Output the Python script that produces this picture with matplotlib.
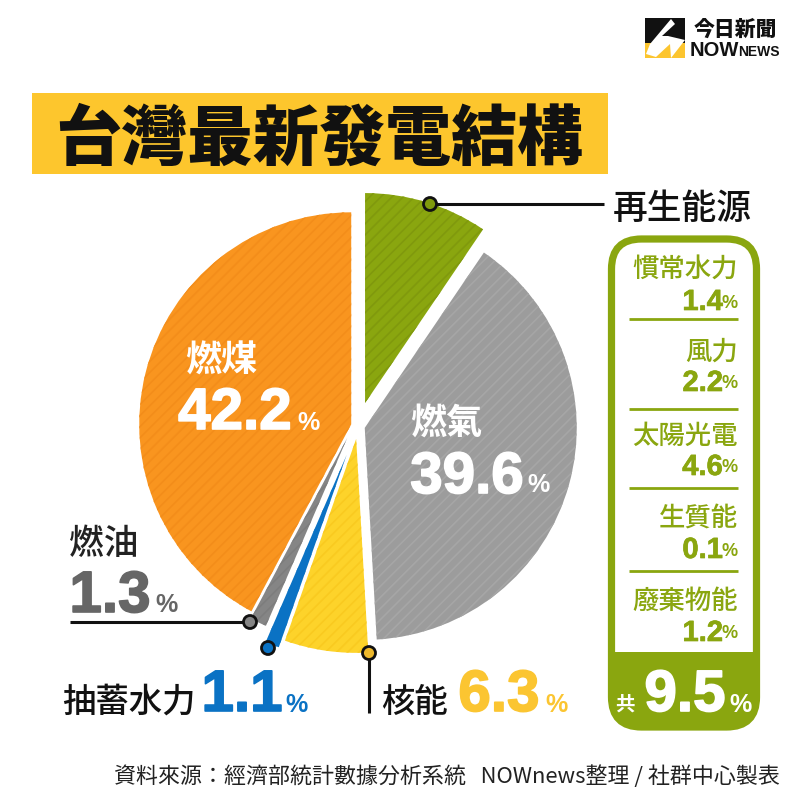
import matplotlib
matplotlib.use("Agg")
import matplotlib.pyplot as plt
import matplotlib.patheffects as pe
from matplotlib.patches import Rectangle, FancyBboxPatch, Polygon, Circle

# ---- data ----
sources = ["再生能源", "燃氣", "核能", "抽蓄水力", "燃油", "燃煤"]
shares = [9.5, 39.6, 6.3, 1.1, 1.3, 42.2]
renew_names = ["慣常水力", "風力", "太陽光電", "生質能", "廢棄物能"]
renew_values = [1.4, 2.2, 4.6, 0.1, 1.2]
title = "台灣最新發電結構"
source_note = "資料來源：經濟部統計數據分析系統   NOWnews整理 / 社群中心製表"

# ---- style ----
colors = ["#8aa60f", "#9c9c9c", "#fdd32a", "#0a72c4", "#858585", "#f9951f"]
hatches = ["#80990d", "#a6a6a6", "#f9ca20", "#0a72c4", "#7d7d7d", "#f38d1a"]
explode_px = [24, 7, 13, 31, 13, 7]
radii_px = [210, 212, 214, 204, 205, 212]
nudge_px = [(0, 0), (0, 0), (0, 0), (0, 0), (-5, 0), (0, 0)]
GREEN = "#8aa60f"
CJK = "Noto Sans CJK JP"
NUM = "Liberation Sans"
plt.rcParams["hatch.linewidth"] = 1.2

fig = plt.figure(figsize=(8, 8), dpi=100, facecolor="white")
ax = fig.add_axes([0, 0, 1, 1])


def Y(y):
    return 800 - y


def T(x, y, s, size, color="#111111", ha="center", font=CJK, weight="bold", stroke=0, z=6):
    t = ax.text(x, Y(y), s, fontsize=size, color=color, ha=ha, va="center_baseline",
                family=font, fontweight=weight, zorder=z)
    if stroke:
        t.set_path_effects([pe.withStroke(linewidth=stroke, foreground=color)])
    return t


wedges, _ = ax.pie(shares, colors=colors, startangle=90, counterclock=False,
                   radius=213, center=(358, Y(426)), explode=explode_px,
                   wedgeprops={"linewidth": 0})
for w, r, h, (dx, dy) in zip(wedges, radii_px, hatches, nudge_px):
    w.set_radius(r)
    w.set_center((w.center[0] + dx, w.center[1] + dy))
    w.set_edgecolor(h)
    w.set_hatch("///")
    w.set_linewidth(0)
    w.set_zorder(2)

ax.set_xlim(0, 800)
ax.set_ylim(0, 800)
ax.set_aspect("equal")
ax.axis("off")

# title
ax.add_patch(Rectangle((32, Y(174)), 576, 81, fc="#fdc62d", ec="none", zorder=1))
T(319, 133, title, 47.5, "#111111", weight="black")

# connectors and dots
ax.plot([430, 604], [Y(204)] * 2, color="#111111", lw=2.2, zorder=4, solid_capstyle="butt")
ax.plot([70, 250], [Y(622)] * 2, color="#111111", lw=2.2, zorder=4, solid_capstyle="butt")
ax.plot([369, 369], [Y(653), Y(713)], color="#111111", lw=2.2, zorder=4, solid_capstyle="butt")
for (x, y), c in zip([(430, 204), (250, 622), (268, 648), (369, 653)],
                     ["#7f9a0c", "#858585", "#0a72c4", "#eeb92c"]):
    ax.add_patch(Circle((x, Y(y)), 6.5, fc=c, ec="#111111", lw=2, zorder=5))

# pie labels
T(221, 357, sources[5], 26, "white")
T(235, 408, f"{shares[5]}", 42, "white", font=NUM, stroke=1.2)
T(308, 421, "%", 18, "white", font=NUM)
T(446, 420, sources[1], 26, "white")
T(467, 472, f"{shares[1]}", 42, "white", font=NUM, stroke=1.2)
T(539, 483, "%", 18, "white", font=NUM)
T(104, 540, sources[4], 25, "#222222", weight="medium")
T(110, 591, f"{shares[4]}", 42, "#666666", font=NUM, stroke=1.2)
T(166, 602, "%", 18, "#666666", font=NUM)
T(129, 698, sources[3], 24, "#111111", weight="medium")
T(242, 690, f"{shares[3]}", 42, "#0a72c4", font=NUM, stroke=1.2)
T(296, 703, "%", 18, "#0a72c4", font=NUM)
T(414, 698, sources[2], 24, "#111111", weight="medium")
T(499, 690, f"{shares[2]}", 42, "#fbc531", font=NUM, stroke=1.2)
T(557, 702, "%", 18, "#fbc531", font=NUM)

# renewables panel
T(682, 205, sources[0], 25, "#111111", weight="medium")
box = FancyBboxPatch((611.5, Y(727)), 145, 488, boxstyle="round,pad=0,rounding_size=30",
                     fc="white", ec=GREEN, lw=5.2, zorder=3)
ax.add_patch(box)
foot = Rectangle((608, Y(732)), 152, 80, fc=GREEN, ec="none", zorder=3.5)
ax.add_patch(foot)
foot.set_clip_path(box)
name_y = [266, 349, 433, 515, 598]
val_y = [299, 380, 464, 547, 630]
for n, v, ny, vy in zip(renew_names, renew_values, name_y, val_y):
    T(738, ny, n, 19, GREEN, ha="right", weight="medium")
    T(723, vy, f"{v}", 21, GREEN, ha="right", font=NUM, stroke=0.5)
    T(738, vy + 2, "%", 13, GREEN, ha="right", font=NUM)
for y in [319, 409, 488, 571]:
    ax.plot([629, 738], [Y(y)] * 2, color=GREEN, lw=2, zorder=4, solid_capstyle="butt")
T(625, 703, "共", 14, "white")
T(685, 690, f"{sum(shares[:1])}", 42, "white", font=NUM, stroke=1.2)
T(740, 703, "%", 18, "white", font=NUM)

# source note
T(780, 774, source_note, 15.8, "#222222", ha="right", weight="regular")

# logo
ax.add_patch(Rectangle((645, Y(58)), 40, 40, fc="#111111", ec="none", zorder=3))
ax.add_patch(Polygon([(x, Y(y)) for x, y in [(645, 58), (685, 58), (685, 43), (645, 43)]],
                     closed=True, fc="#fcc52f", ec="none", zorder=3))
ax.add_patch(Polygon([(x, Y(y)) for x, y in
                      [(671, 19), (650, 44), (646, 54), (656, 57), (670, 44), (671, 58),
                       (685, 40), (668, 36), (662, 36), (675, 24)]],
                     closed=True, fc="white", ec="none", zorder=4))
T(735.5, 28, "今日新聞", 15, "#111111", weight="black")
ax.text(690, Y(49), "NOW", fontsize=14.5, family=NUM, fontweight="bold", color="#111111",
        va="center_baseline", ha="left", zorder=6)
ax.text(780, Y(50), "NEWS", fontsize=10, family=NUM, fontweight="bold", color="#111111",
        va="center_baseline", ha="right", zorder=6)

fig.savefig("out.png", dpi=100, facecolor="white")
